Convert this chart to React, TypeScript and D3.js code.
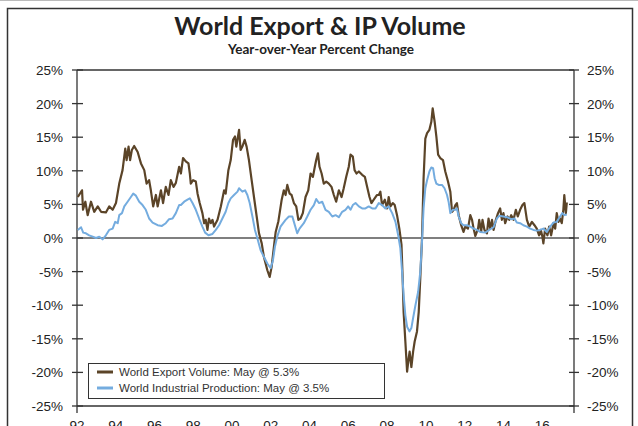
import React from 'react';
import * as d3 from 'd3';

// world export volume, yoy % (decimal year, value)
const exportVolume: [number, number][] = [
  [1992.04, 6.1], [1992.26, 7.1], [1992.31, 4.2], [1992.43, 5.4], [1992.55, 3.4], [1992.72, 5.4],
  [1992.89, 3.9], [1993.07, 4.7], [1993.24, 3.9], [1993.49, 3.8], [1993.66, 4.7], [1993.84, 4.2],
  [1994.01, 5.2], [1994.18, 8.1], [1994.35, 10.1], [1994.49, 13.3], [1994.56, 11.6], [1994.66, 13.6],
  [1994.74, 11.6], [1994.83, 13.1], [1994.95, 13.7], [1995.13, 12.8], [1995.3, 11.1], [1995.47, 10.1],
  [1995.59, 8.1], [1995.72, 8.6], [1995.81, 7.1], [1995.93, 4.7], [1996.07, 6.4], [1996.16, 4.7],
  [1996.33, 7.1], [1996.44, 5.2], [1996.58, 7.6], [1996.72, 6.4], [1996.84, 8.6], [1996.98, 7.6],
  [1997.1, 8.2], [1997.27, 10.6], [1997.36, 9.6], [1997.47, 11.9], [1997.61, 11.4], [1997.75, 11.1],
  [1997.82, 9.6], [1997.87, 8.1], [1997.99, 8.6], [1998.13, 8.4], [1998.22, 6.6], [1998.33, 5.2],
  [1998.47, 3.7], [1998.56, 2.2], [1998.64, 2.7], [1998.73, 1.2], [1998.81, 2.9], [1998.9, 2.2],
  [1998.99, 2.7], [1999.07, 1.7], [1999.25, 2.7], [1999.42, 4.7], [1999.59, 7.1], [1999.67, 6.6],
  [1999.81, 10.1], [1999.93, 11.6], [2000.05, 14.6], [2000.15, 15.1], [2000.22, 13.6], [2000.36, 16.1],
  [2000.44, 13.1], [2000.53, 13.6], [2000.65, 14.6], [2000.75, 13.6], [2000.87, 11.6], [2001.01, 8.6],
  [2001.13, 6.1], [2001.27, 3.2], [2001.39, 0.7], [2001.53, -0.8], [2001.64, -2.8], [2001.82, -4.8],
  [2001.94, -5.8], [2002.04, -4.3], [2002.16, -1.3], [2002.25, 0.9], [2002.39, 2.5], [2002.56, 5.7],
  [2002.67, 7.1], [2002.76, 6.4], [2002.85, 7.9], [2002.97, 6.6], [2003.07, 6.4], [2003.19, 5.2],
  [2003.31, 4.7], [2003.42, 2.7], [2003.53, 2.9], [2003.65, 3.7], [2003.79, 6.1], [2003.93, 7.1],
  [2004.05, 9.6], [2004.17, 9.1], [2004.27, 10.6], [2004.34, 11.6], [2004.43, 12.6], [2004.51, 10.6],
  [2004.62, 9.6], [2004.73, 8.1], [2004.86, 8.4], [2004.99, 8.1], [2005.13, 7.6], [2005.25, 6.4],
  [2005.37, 5.4], [2005.51, 7.1], [2005.65, 6.1], [2005.76, 7.4], [2005.89, 9.1], [2006.02, 10.6],
  [2006.11, 12.4], [2006.23, 12.1], [2006.32, 10.1], [2006.42, 9.6], [2006.54, 9.9], [2006.71, 9.4],
  [2006.85, 9.1], [2006.97, 7.6], [2007.09, 6.1], [2007.19, 5.2], [2007.31, 5.7], [2007.48, 6.4],
  [2007.57, 6.4], [2007.65, 6.9], [2007.74, 4.9], [2007.88, 5.7], [2008.0, 4.4], [2008.08, 6.1],
  [2008.17, 4.7], [2008.29, 5.2], [2008.39, 4.9], [2008.51, 3.4], [2008.63, 1.4], [2008.74, -1.0],
  [2008.8, -6.0], [2008.85, -11.0], [2008.94, -15.4], [2009.03, -19.9], [2009.11, -17.9], [2009.16, -16.9],
  [2009.25, -19.2], [2009.34, -16.9], [2009.42, -15.4], [2009.54, -13.9], [2009.63, -11.0], [2009.71, -6.0],
  [2009.8, 0.0], [2009.88, 8.9], [2009.97, 14.8], [2010.06, 15.6], [2010.18, 16.1], [2010.28, 17.3],
  [2010.35, 19.3], [2010.45, 17.3], [2010.54, 15.1], [2010.63, 12.4], [2010.74, 11.9], [2010.88, 11.6],
  [2011.0, 9.9], [2011.14, 8.4], [2011.26, 6.9], [2011.35, 3.9], [2011.43, 4.2], [2011.52, 4.9],
  [2011.6, 5.2], [2011.69, 3.4], [2011.82, 1.9], [2011.94, 0.9], [2012.03, 1.7], [2012.17, 1.4],
  [2012.29, 3.4], [2012.38, 2.7], [2012.46, 1.4], [2012.55, 0.3], [2012.69, 1.4], [2012.75, 2.7],
  [2012.85, 0.9], [2012.92, 2.7], [2013.02, 1.2], [2013.15, 0.7], [2013.23, 2.9], [2013.32, 1.4],
  [2013.41, 2.7], [2013.49, 1.2], [2013.61, 2.7], [2013.72, 3.7], [2013.83, 4.4], [2013.92, 2.7],
  [2014.0, 3.7], [2014.09, 2.2], [2014.21, 3.2], [2014.3, 2.7], [2014.4, 3.4], [2014.52, 2.7],
  [2014.64, 4.2], [2014.74, 3.2], [2014.86, 4.2], [2014.98, 4.9], [2015.08, 5.2], [2015.21, 2.7],
  [2015.33, 1.7], [2015.47, 2.4], [2015.6, 1.9], [2015.72, 1.4], [2015.84, 0.4], [2015.93, 1.2],
  [2016.01, 0.2], [2016.06, -0.8], [2016.15, 1.4], [2016.27, 0.4], [2016.36, 1.7], [2016.46, 0.4],
  [2016.58, 2.2], [2016.67, 1.4], [2016.75, 3.7], [2016.84, 2.4], [2016.92, 2.9], [2017.01, 2.2],
  [2017.09, 4.2], [2017.14, 6.4], [2017.22, 3.7], [2017.27, 5.3],
];

// world industrial production, yoy %
const industrialProduction: [number, number][] = [
  [1992.04, 1.2], [1992.21, 1.6], [1992.32, 0.8], [1992.46, 0.7], [1992.63, 0.4], [1992.81, 0.2],
  [1992.98, 0.0], [1993.15, 0.2], [1993.32, -0.2], [1993.49, 0.4], [1993.66, 1.2], [1993.84, 1.4],
  [1993.97, 2.4], [1994.1, 2.2], [1994.18, 3.4], [1994.32, 3.7], [1994.44, 4.7], [1994.61, 5.4],
  [1994.78, 6.1], [1994.9, 6.6], [1995.04, 6.3], [1995.21, 5.4], [1995.38, 4.9], [1995.55, 4.2],
  [1995.72, 2.9], [1995.9, 2.3], [1996.16, 1.9], [1996.38, 1.8], [1996.58, 2.2], [1996.75, 2.8],
  [1996.93, 2.9], [1997.1, 3.7], [1997.27, 4.9], [1997.36, 4.9], [1997.53, 5.4], [1997.7, 5.7],
  [1997.82, 5.9], [1997.96, 5.2], [1998.13, 4.2], [1998.3, 2.9], [1998.47, 1.7], [1998.61, 0.8],
  [1998.78, 0.4], [1998.99, 0.6], [1999.16, 1.2], [1999.33, 1.9], [1999.5, 2.9], [1999.67, 3.9],
  [1999.81, 5.2], [1999.93, 5.9], [2000.1, 6.4], [2000.28, 6.9], [2000.36, 7.4], [2000.53, 6.9],
  [2000.67, 7.1], [2000.79, 6.4], [2000.91, 5.2], [2001.05, 3.2], [2001.18, 1.2], [2001.3, 0.0],
  [2001.47, -1.8], [2001.64, -2.8], [2001.82, -3.8], [2001.99, -4.5], [2002.11, -3.3], [2002.21, -1.3],
  [2002.33, 0.2], [2002.5, 1.7], [2002.76, 2.7], [2002.93, 3.2], [2003.11, 3.2], [2003.19, 2.4],
  [2003.36, 0.7], [2003.48, 1.4], [2003.7, 2.2], [2003.88, 3.2], [2004.05, 4.2], [2004.22, 4.9],
  [2004.34, 5.8], [2004.48, 5.2], [2004.65, 5.4], [2004.82, 4.2], [2004.99, 3.9], [2005.17, 3.2],
  [2005.34, 3.4], [2005.51, 3.1], [2005.68, 3.9], [2005.85, 4.2], [2005.99, 4.7], [2006.11, 4.2],
  [2006.23, 4.9], [2006.37, 5.2], [2006.54, 4.7], [2006.71, 4.4], [2006.88, 4.4], [2007.05, 4.7],
  [2007.23, 4.4], [2007.4, 4.4], [2007.57, 5.2], [2007.74, 4.9], [2007.91, 4.4], [2008.08, 4.7],
  [2008.26, 3.7], [2008.43, 2.4], [2008.57, 0.4], [2008.68, -1.5], [2008.77, -5.0], [2008.85, -8.5],
  [2008.94, -11.5], [2009.03, -13.2], [2009.15, -13.9], [2009.25, -13.4], [2009.34, -11.9], [2009.46, -10.0],
  [2009.6, -8.0], [2009.71, -5.0], [2009.8, -0.5], [2009.88, 4.4], [2009.97, 7.4], [2010.06, 8.6],
  [2010.18, 9.9], [2010.28, 10.5], [2010.37, 10.4], [2010.45, 8.9], [2010.54, 8.1], [2010.66, 7.9],
  [2010.83, 7.9], [2010.96, 7.4], [2011.09, 6.4], [2011.17, 5.4], [2011.26, 3.7], [2011.38, 4.2],
  [2011.52, 4.2], [2011.6, 4.4], [2011.69, 3.2], [2011.82, 2.2], [2011.94, 1.9], [2012.12, 1.9],
  [2012.29, 1.7], [2012.46, 1.4], [2012.63, 1.2], [2012.8, 0.9], [2013.06, 0.8], [2013.32, 1.3],
  [2013.49, 1.6], [2013.66, 2.9], [2013.78, 3.3], [2014.0, 3.2], [2014.18, 3.1], [2014.4, 2.8],
  [2014.57, 2.9], [2014.69, 2.3], [2014.86, 2.2], [2015.03, 1.9], [2015.21, 1.7], [2015.38, 1.4],
  [2015.55, 1.2], [2015.72, 1.1], [2015.89, 1.2], [2016.06, 1.4], [2016.24, 0.9], [2016.41, 1.7],
  [2016.58, 2.3], [2016.75, 2.4], [2016.92, 3.2], [2017.04, 3.7], [2017.14, 3.4], [2017.27, 3.5],
];

const yTickValues = [25, 20, 15, 10, 5, 0, -5, -10, -15, -20, -25];
const xTickYears = [1992, 1994, 1996, 1998, 2000, 2002, 2004, 2006, 2008, 2010, 2012, 2014, 2016];
const xTickLabels = ['92', '94', '96', '98', '00', '02', '04', '06', '08', '10', '12', '14', '16'];
const legendLabels = ['World Export Volume: May @ 5.3%', 'World Industrial Production: May @ 3.5%'];
const seriesColors = ['#5b4428', '#74acdf'];

const W = 638;
const H = 426;
const plot = { left: 77, right: 574, top: 70, bottom: 406 };
const axisFont = '"Liberation Sans", Arial, sans-serif';

export default function App() {
  const x = d3.scaleLinear().domain([1992, 2017.64]).range([plot.left, plot.right]);
  const y = d3.scaleLinear().domain([-25, 25]).range([plot.bottom, plot.top]);

  const line = d3.line<[number, number]>()
    .x(d => x(d[0]))
    .y(d => y(d[1]));

  const axisColor = '#333';

  return (
    <svg width={W} height={H} style={{ position: 'absolute', left: 0, top: 0, background: '#fff' }}>
      {/* outer frame */}
      <line x1={0} x2={W} y1={0.5} y2={0.5} stroke="#bbb" strokeWidth={1} />
      <rect x={7.5} y={8.5} width={625} height={430} fill="none" stroke="#333" strokeWidth={1.5} />

      {/* titles */}
      <text x={320} y={35} textAnchor="middle" fontFamily="Lato, sans-serif" fontWeight={700}
        fontSize={25} fill="#222">World Export &amp; IP Volume</text>
      <text x={321} y={54} textAnchor="middle" fontFamily="Lato, sans-serif" fontWeight={700}
        fontSize={13.5} fill="#222">Year-over-Year Percent Change</text>

      {/* plot box lines */}
      <line x1={plot.left} x2={plot.right} y1={y(25)} y2={y(25)} stroke={axisColor} strokeWidth={1.3} />
      <line x1={plot.left} x2={plot.right} y1={y(-25)} y2={y(-25)} stroke={axisColor} strokeWidth={1.3} />
      <line x1={plot.left} x2={plot.right} y1={y(0)} y2={y(0)} stroke="#555" strokeWidth={1.3} />
      <line x1={plot.left} x2={plot.left} y1={plot.top} y2={plot.bottom + 7} stroke={axisColor} strokeWidth={1.3} />
      <line x1={plot.right} x2={plot.right} y1={plot.top} y2={plot.bottom + 7} stroke={axisColor} strokeWidth={1.3} />

      {/* y ticks and labels, both sides */}
      {yTickValues.map(v => (
        <g key={v}>
          <line x1={plot.left - 5} x2={plot.left + 6} y1={y(v)} y2={y(v)} stroke={axisColor} strokeWidth={1.3} />
          <line x1={plot.right - 5} x2={plot.right + 5} y1={y(v)} y2={y(v)} stroke={axisColor} strokeWidth={1.3} />
          <text x={63} y={y(v) + 5} textAnchor="end" fontFamily={axisFont} fontSize={13.5} fill="#222">{v}%</text>
          <text x={587} y={y(v) + 5} textAnchor="start" fontFamily={axisFont} fontSize={13.5} fill="#222">{v}%</text>
        </g>
      ))}

      {/* x labels (cut by the bottom edge, as in the original) */}
      {xTickYears.map((yr, i) => (
        <text key={yr} x={x(yr)} y={430} textAnchor="middle" fontFamily={axisFont} fontSize={13.5} fill="#222">
          {xTickLabels[i]}
        </text>
      ))}

      {/* series */}
      <path d={line(exportVolume) || ''} fill="none" stroke={seriesColors[0]} strokeWidth={2.2} strokeLinejoin="round" />
      <path d={line(industrialProduction) || ''} fill="none" stroke={seriesColors[1]} strokeWidth={2} strokeLinejoin="round" />

      {/* legend */}
      <rect x={88.5} y={363.5} width={296} height={35} fill="#fff" stroke="#333" strokeWidth={1} />
      {legendLabels.map((lab, i) => (
        <g key={lab}>
          <line x1={97} x2={113} y1={372 + i * 16} y2={372 + i * 16} stroke={seriesColors[i]} strokeWidth={3} />
          <text x={119} y={376 + i * 16} fontFamily={axisFont} fontSize={11.5} fill="#333">{lab}</text>
        </g>
      ))}
    </svg>
  );
}
